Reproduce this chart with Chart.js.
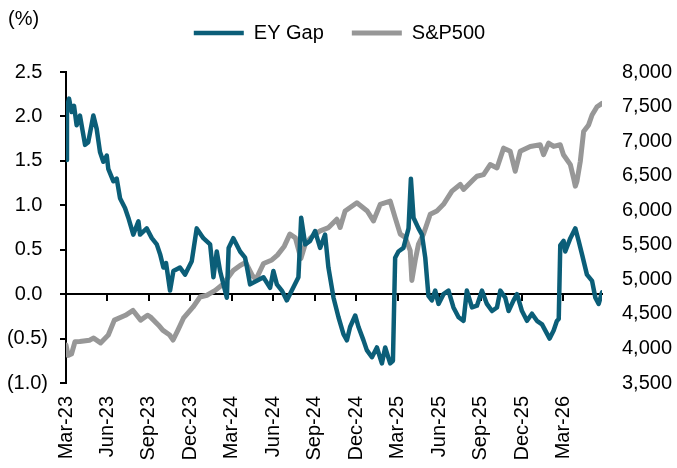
<!DOCTYPE html>
<html>
<head>
<meta charset="utf-8">
<script src="https://cdn.jsdelivr.net/npm/chart.js@4.4.1/dist/chart.umd.min.js"></script>
<style>
  html, body { margin: 0; padding: 0; background: #ffffff; }
  #wrap { width: 677px; height: 468px; position: relative; }
</style>
</head>
<body>
<div id="wrap"><canvas id="c"></canvas></div>
<script>
// Months since Mar-2023 (0 = Mar-23)
const tickLabels = ['Mar-23','Jun-23','Sep-23','Dec-23','Mar-24','Jun-24','Sep-24','Dec-24','Mar-25','Jun-25','Sep-25','Dec-25','Mar-26'];

const eyMonths = [0,0.07,0.22,0.41,0.58,0.77,1.01,1.38,1.61,1.98,2.22,2.46,2.70,2.95,3.06,3.43,3.67,3.91,4.27,4.51,4.87,5.24,5.36,5.84,6.21,6.57,6.81,7.05,7.24,7.53,7.77,8.25,8.62,9.10,9.46,9.94,10.43,10.67,10.91,11.15,11.64,11.77,12.11,12.6,12.96,13.1,13.32,13.81,14.29,14.77,15.01,15.26,15.62,15.98,16.34,16.82,17.02,17.31,17.67,18.03,18.39,18.75,18.99,19.36,19.72,20.08,20.33,20.56,20.93,21.17,21.53,21.77,22.14,22.5,22.86,23.1,23.46,23.66,23.82,24.06,24.42,24.79,24.96,25.15,25.51,25.76,26.0,26.23,26.48,26.72,26.96,27.32,27.68,28.04,28.41,28.77,29.01,29.38,29.74,30.1,30.46,30.83,31.19,31.43,31.79,32.03,32.39,32.64,33.0,33.36,33.72,34.08,34.45,34.69,35.0,35.29,35.53,35.66,35.77,36.01,36.13,36.5,36.86,37.1,37.34,37.7,38.07,38.31,38.55,38.79];
const eyValues = [1.51,2.10,2.20,2.05,2.12,1.90,2.01,1.68,1.71,2.01,1.86,1.60,1.49,1.56,1.41,1.27,1.30,1.08,0.97,0.86,0.67,0.82,0.67,0.74,0.63,0.56,0.45,0.30,0.35,0.04,0.26,0.30,0.22,0.37,0.74,0.63,0.56,0.19,0.48,0.26,-0.04,0.52,0.63,0.48,0.41,0.30,0.11,0.15,0.19,0.07,0.26,0.11,0.04,-0.07,0.04,0.19,0.86,0.56,0.60,0.71,0.52,0.67,0.30,-0.04,-0.26,-0.45,-0.52,-0.37,-0.24,-0.37,-0.52,-0.63,-0.71,-0.60,-0.78,-0.60,-0.78,-0.75,0.41,0.48,0.52,0.74,1.30,0.86,0.74,0.67,0.41,-0.02,-0.07,0.04,-0.11,0.0,0.04,-0.15,-0.26,-0.30,0.04,-0.15,-0.13,0.04,-0.11,-0.19,-0.15,0.04,-0.04,-0.19,-0.07,0.0,-0.19,-0.30,-0.22,-0.30,-0.34,-0.41,-0.50,-0.41,-0.30,-0.28,0.55,0.60,0.48,0.63,0.74,0.60,0.45,0.22,0.15,-0.04,-0.11,0.02];

const spMonths = [0,0.15,0.4,0.65,1.0,1.7,2.0,2.5,3.06,3.5,4.3,4.85,5.4,5.9,6.1,6.7,7.0,7.5,7.75,8.1,8.5,9.2,9.7,10.2,10.8,11.4,12.1,12.6,13.0,13.5,13.75,14.3,14.9,15.3,15.8,16.2,16.6,17.0,17.3,17.7,18.0,18.4,19.0,19.6,19.84,20.2,21.05,21.8,22.25,22.74,23.46,23.82,24.19,24.55,24.91,25.03,25.27,25.51,25.87,26.36,26.84,27.32,27.93,28.53,28.77,29.13,29.49,29.74,30.22,30.7,31.19,31.67,32.15,32.51,32.87,33.6,34.32,34.56,34.92,35.29,35.77,36.0,36.5,36.73,36.86,36.98,37.22,37.46,37.82,38.07,38.43,38.79];
const spValues = [4050,3900,3920,4097,4100,4120,4150,4080,4194,4410,4480,4550,4410,4480,4457,4337,4265,4194,4122,4265,4437,4600,4744,4770,4840,4936,5127,5200,5246,5050,5000,5230,5280,5350,5480,5654,5600,5300,5500,5600,5650,5702,5749,5870,5750,5989,6108,5989,5845,6085,6133,5893,5654,5606,5415,4984,5271,5511,5654,5942,5989,6085,6276,6373,6300,6373,6444,6492,6516,6660,6611,6898,6852,6564,6852,6923,6947,6803,6971,6923,6947,6803,6660,6468,6348,6420,6707,7138,7234,7378,7497,7545];

const FONT = 'Arial, "Liberation Sans", sans-serif';
const TEAL = '#0B5E78';
const GREY = '#979797';
const xMax = eyMonths[eyMonths.length - 1];

const unitLabel = {
  id: 'unitLabel',
  afterDraw(chart) {
    const ctx = chart.ctx;
    ctx.save();
    ctx.font = '20px ' + FONT;
    ctx.fillStyle = '#000';
    ctx.textAlign = 'left';
    ctx.textBaseline = 'middle';
    ctx.fillText('(%)', 8, 19);
    ctx.restore();
  }
};

const legendGap = {
  id: 'legendGap',
  afterInit(chart) {
    const lg = chart.legend;
    if (!lg) return;
    const orig = lg.fit;
    lg.fit = function () { orig.call(this); this.height += 19; };
  }
};

new Chart(document.getElementById('c'), {
  type: 'line',
  data: {
    datasets: [
      {
        label: 'EY Gap',
        data: eyMonths.map((m, i) => ({x: m, y: eyValues[i]})),
        borderColor: TEAL,
        backgroundColor: TEAL,
        borderWidth: 4.5,
        borderCapStyle: 'round',
        borderJoinStyle: 'round',
        pointRadius: 0,
        tension: 0,
        yAxisID: 'y',
        xAxisID: 'x'
      },
      {
        label: 'S&P500',
        data: spMonths.map((m, i) => ({x: m, y: spValues[i]})),
        borderColor: GREY,
        backgroundColor: GREY,
        borderWidth: 5,
        borderCapStyle: 'round',
        borderJoinStyle: 'round',
        pointRadius: 0,
        tension: 0,
        yAxisID: 'y2',
        xAxisID: 'x'
      }
    ]
  },
  options: {
    responsive: true,
    maintainAspectRatio: false,
    animation: false,
    layout: { padding: { left: 7, right: 5, top: -5, bottom: 6 } },
    plugins: {
      tooltip: { enabled: false },
      legend: {
        position: 'top',
        align: 'center',
        labels: {
          usePointStyle: true,
          pointStyle: 'line',
          pointStyleWidth: 50,
          boxHeight: 20,
          padding: 28,
          color: '#000',
          font: { family: FONT, size: 20 }
        }
      }
    },
    scales: {
      x: {
        type: 'linear',
        position: 'bottom',
        min: 0,
        max: xMax,
        grid: { display: false, drawTicks: false },
        border: { display: false },
        afterFit: (s) => { s.height = 79; },
        ticks: {
          stepSize: 3,
          includeBounds: false,
          autoSkip: false,
          minRotation: 90,
          maxRotation: 90,
          padding: 13,
          color: '#000',
          font: { family: FONT, size: 20 },
          callback: (v) => (v % 3 === 0 && tickLabels[v / 3] !== undefined) ? tickLabels[v / 3] : ''
        }
      },
      x0: {
        type: 'linear',
        position: { y: 0 },
        min: 0,
        max: xMax,
        grid: { display: true, drawOnChartArea: false, drawTicks: true, tickLength: 6, color: '#000', lineWidth: 2 },
        border: { display: true, color: '#000', width: 2 },
        ticks: { stepSize: 3, includeBounds: false, display: false }
      },
      y: {
        type: 'linear',
        position: 'left',
        min: -1,
        max: 2.5,
        grid: { display: true, drawOnChartArea: false, drawTicks: true, tickLength: 6, color: '#000', lineWidth: 2 },
        border: { display: true, color: '#000', width: 2 },
        afterFit: (s) => { s.width = 59; },
        ticks: {
          stepSize: 0.5,
          padding: 12,
          color: '#000',
          font: { family: FONT, size: 20 },
          callback: (v) => {
            if (Math.abs(v) < 1e-9) return '0.0 ';
            return v < 0 ? '(' + Math.abs(v).toFixed(1) + ')' : v.toFixed(1) + ' ';
          }
        }
      },
      y2: {
        type: 'linear',
        position: 'right',
        min: 3500,
        max: 8000,
        grid: { display: false, drawTicks: false },
        border: { display: false },
        afterFit: (s) => { s.width = 70; },
        ticks: {
          stepSize: 500,
          padding: 10,
          crossAlign: 'far',
          color: '#000',
          font: { family: FONT, size: 20 },
          callback: (v) => v.toLocaleString('en-US')
        }
      }
    }
  },
  plugins: [unitLabel, legendGap]
});
</script>
</body>
</html>
